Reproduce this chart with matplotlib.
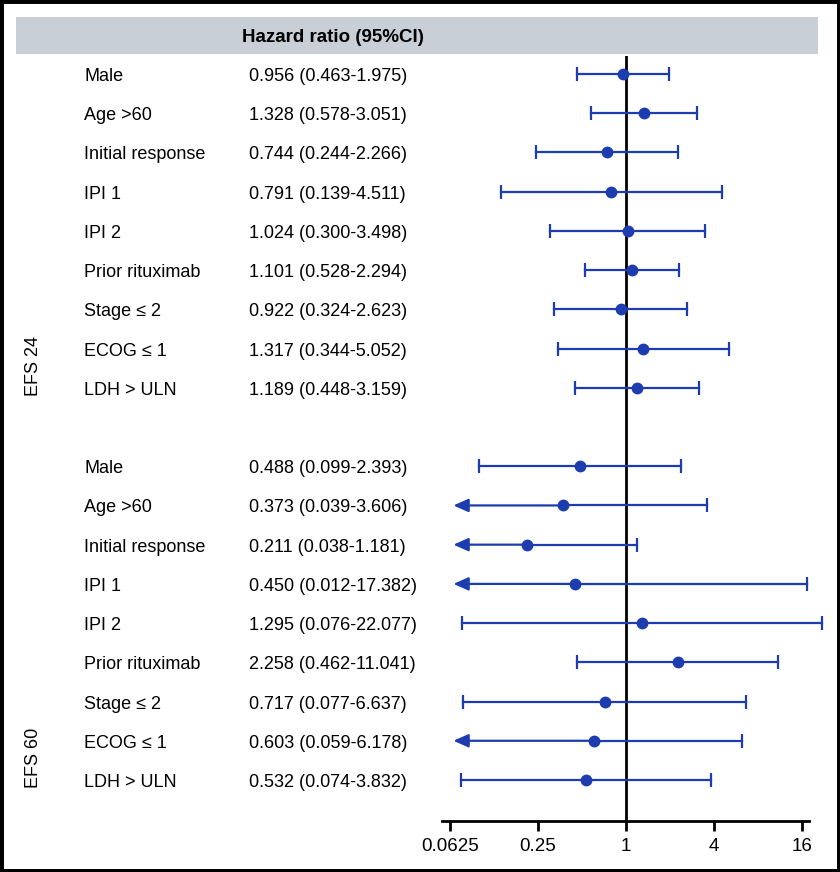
import numpy as np
import matplotlib.pyplot as plt
from matplotlib.patches import Rectangle
import matplotlib.transforms as mtransforms

plt.rcParams['font.family'] = ['Liberation Sans', 'DejaVu Sans']

# data
labels = ["Male", "Age >60", "Initial response", "IPI 1", "IPI 2",
          "Prior rituximab", "Stage \u2264 2", "ECOG \u2264 1", "LDH > ULN"]
efs24_hr = [0.956, 1.328, 0.744, 0.791, 1.024, 1.101, 0.922, 1.317, 1.189]
efs24_lo = [0.463, 0.578, 0.244, 0.139, 0.300, 0.528, 0.324, 0.344, 0.448]
efs24_hi = [1.975, 3.051, 2.266, 4.511, 3.498, 2.294, 2.623, 5.052, 3.159]
efs60_hr = [0.488, 0.373, 0.211, 0.450, 1.295, 2.258, 0.717, 0.603, 0.532]
efs60_lo = [0.099, 0.039, 0.038, 0.012, 0.076, 0.462, 0.077, 0.059, 0.074]
efs60_hi = [2.393, 3.606, 1.181, 17.382, 22.077, 11.041, 6.637, 6.178, 3.832]
ticks = [0.0625, 0.25, 1, 4, 16]
tick_labels = ["0.0625", "0.25", "1", "4", "16"]

W, H = 840, 872
FS = 13
fig = plt.figure(figsize=(W / 100, H / 100), dpi=100)

# frame + header
fig.patches.append(Rectangle((0, 0), 1, 1, transform=fig.transFigure,
                             fill=False, edgecolor='black', lw=5, zorder=10))
fig.patches.append(Rectangle((16 / W, 1 - 54 / H), (818 - 16) / W, 37 / H,
                             transform=fig.transFigure, facecolor='#c8cfd7',
                             edgecolor='none', zorder=0))
fig.text(333 / W, 1 - 37 / H, "Hazard ratio (95%CI)", ha='center', va='center',
         fontsize=13.5, fontweight='bold')

ax = fig.add_axes([440 / W, 1 - 821 / H, 392 / W, (821 - 56) / H])
ax.set_xscale('log', base=2)
ax.set_xlim(2 ** ((440 - 626) / 44), 2 ** ((832 - 626) / 44))
sp = (780 - 74) / 18
ax.set_ylim((821 - 74) / sp, -(74 - 56) / sp)

blue = '#1c3caf'
clip_lo = 0.066
dy = 2.5 / sp  # nudge text down a little

groups = [(0, efs24_hr, efs24_lo, efs24_hi), (10, efs60_hr, efs60_lo, efs60_hi)]
trans = mtransforms.blended_transform_factory(fig.transFigure, ax.transData)
for start, hr, lo, hi in groups:
    for i in range(len(labels)):
        y = start + i
        ax.plot([hr[i], hi[i]], [y, y], color=blue, lw=1.6, zorder=3)
        ax.plot([hi[i]], [y], marker='|', ms=10, mew=1.6, color=blue, zorder=3)
        if lo[i] < clip_lo:
            ax.annotate('', xy=(clip_lo, y), xytext=(hr[i], y),
                        arrowprops=dict(arrowstyle='-|>,head_length=0.9,head_width=0.4',
                                        color=blue, lw=1.6, shrinkA=0, shrinkB=0),
                        zorder=3)
        else:
            ax.plot([lo[i], hr[i]], [y, y], color=blue, lw=1.6, zorder=3)
            ax.plot([lo[i]], [y], marker='|', ms=10, mew=1.6, color=blue, zorder=3)
        ax.plot([hr[i]], [y], marker='o', ms=7.5, color=blue, zorder=4)
        ax.text(84 / W, y + dy, labels[i], transform=trans, ha='left', va='center',
                fontsize=FS)
        ax.text(249 / W, y + dy, "%.3f (%.3f-%.3f)" % (hr[i], lo[i], hi[i]),
                transform=trans, ha='left', va='center', fontsize=FS)

fig.text(33 / W, 1 - 366 / H, "EFS 24", rotation=90, ha='center', va='center',
         fontsize=FS)
fig.text(33 / W, 1 - 758 / H, "EFS 60", rotation=90, ha='center', va='center',
         fontsize=FS)

ax.axvline(1, color='black', lw=2, zorder=2)
for s in ['top', 'right', 'left']:
    ax.spines[s].set_visible(False)
ax.spines['bottom'].set_linewidth(2)
ax.spines['bottom'].set_bounds(2 ** ((442 - 626) / 44), 2 ** ((809 - 626) / 44))
ax.set_yticks([])
ax.set_xticks(ticks)
ax.set_xticklabels(tick_labels, fontsize=13.5)
ax.minorticks_off()
ax.tick_params(axis='x', direction='out', length=7, width=2, pad=5)

fig.savefig('out.png', dpi=100)
